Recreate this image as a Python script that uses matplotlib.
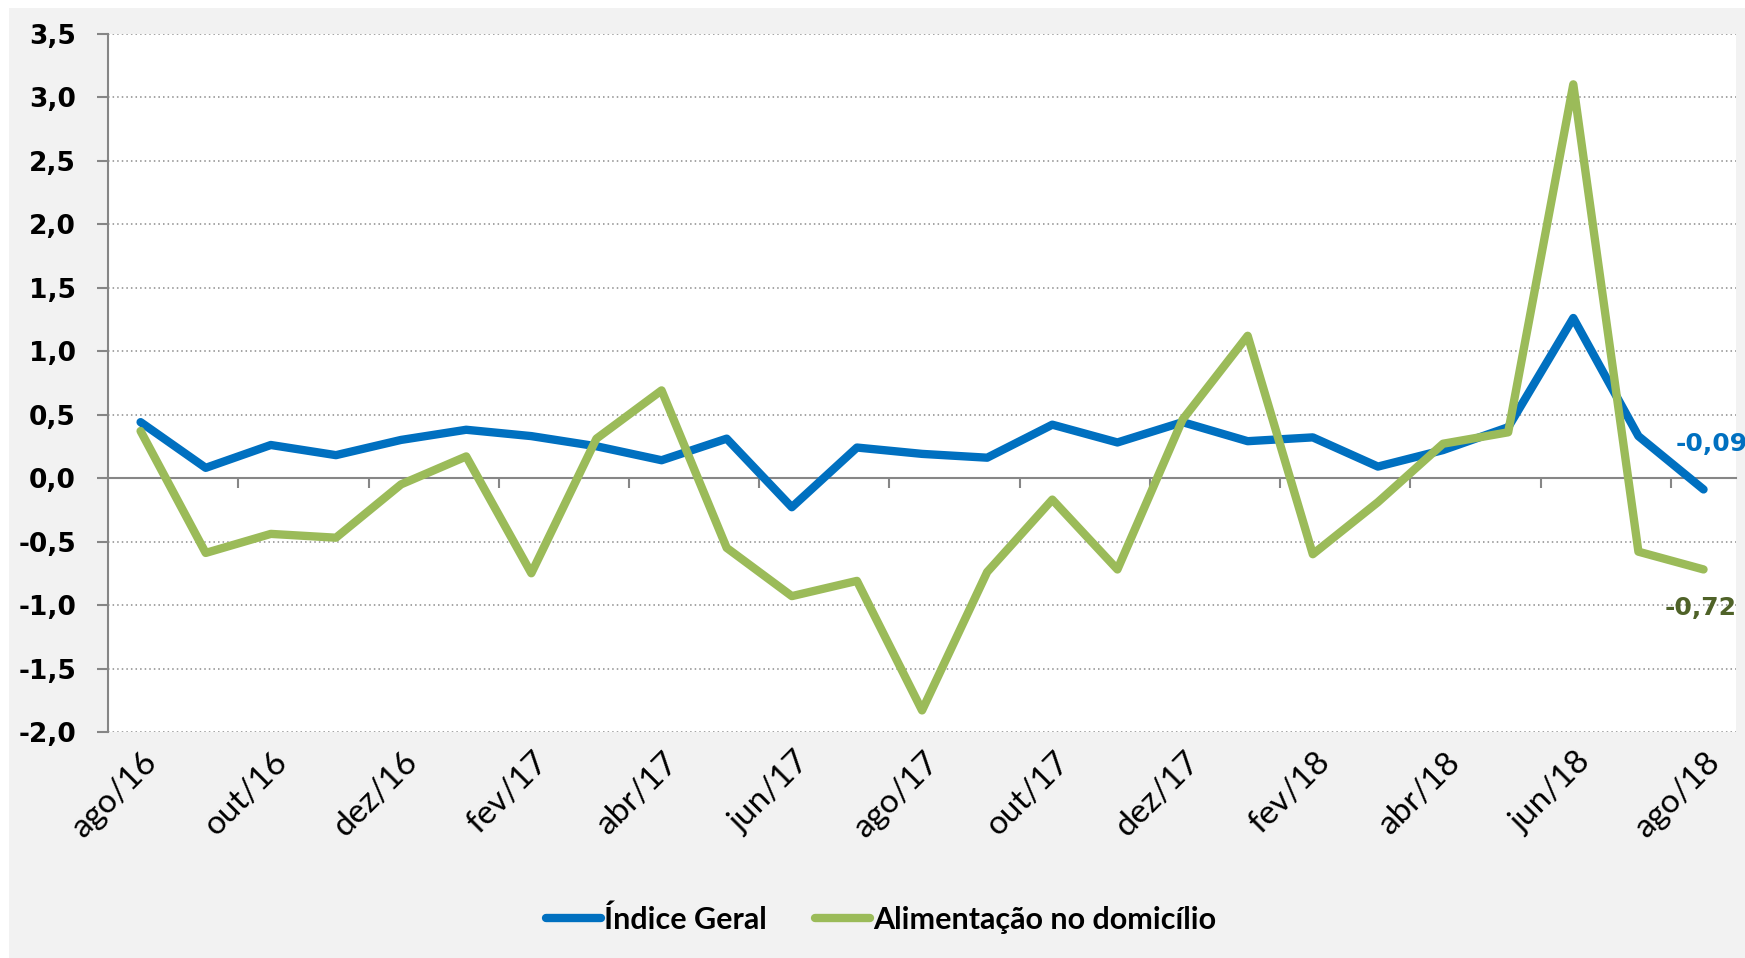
import numpy as np
import matplotlib.pyplot as plt
import matplotlib.transforms as mtransforms

# IPCA - variacao mensal (%)
meses = ['ago/16', 'set/16', 'out/16', 'nov/16', 'dez/16', 'jan/17', 'fev/17',
         'mar/17', 'abr/17', 'mai/17', 'jun/17', 'jul/17', 'ago/17', 'set/17',
         'out/17', 'nov/17', 'dez/17', 'jan/18', 'fev/18', 'mar/18', 'abr/18',
         'mai/18', 'jun/18', 'jul/18', 'ago/18']
indice_geral = [0.44, 0.08, 0.26, 0.18, 0.30, 0.38, 0.33, 0.25, 0.14, 0.31, -0.23,
                0.24, 0.19, 0.16, 0.42, 0.28, 0.44, 0.29, 0.32, 0.09, 0.22, 0.40,
                1.26, 0.33, -0.09]
alimentacao = [0.37, -0.59, -0.44, -0.47, -0.05, 0.17, -0.75, 0.31, 0.69, -0.55,
               -0.93, -0.81, -1.83, -0.74, -0.17, -0.72, 0.46, 1.12, -0.60, -0.19,
               0.27, 0.36, 3.10, -0.58, -0.72]
y_ticks = [-2.0, -1.5, -1.0, -0.5, 0.0, 0.5, 1.0, 1.5, 2.0, 2.5, 3.0, 3.5]

azul = '#0070C0'
verde = '#9BBB59'
verde_escuro = '#4F6228'
cinza = '#868686'

fig = plt.figure(figsize=(17.45, 9.58), dpi=100, facecolor='white')
fig.patches.append(plt.Rectangle((9 / 1745, 0), 1, 1 - 8 / 958, transform=fig.transFigure,
                                 facecolor='#F2F2F2', edgecolor='none', zorder=-10))
ax = fig.add_axes([0.0619, 0.2359, 0.9330, 0.7291])
ax.set_facecolor('white')

x = np.arange(len(meses))
ax.plot(x, indice_geral, color=azul, lw=6, solid_capstyle='round', solid_joinstyle='round',
        label='Índice Geral', zorder=3)
ax.plot(x, alimentacao, color=verde, lw=6, solid_capstyle='round', solid_joinstyle='round',
        label='Alimentação no domicílio', zorder=3)

ax.set_xlim(-0.5, len(meses) - 0.5)
ax.set_ylim(y_ticks[0], y_ticks[-1])

# grade pontilhada
for v in y_ticks:
    if v != 0:
        ax.axhline(v, color='#8C8C8C', lw=1.1, ls=(0, (1, 2)), zorder=1)

for s in ['top', 'right', 'bottom']:
    ax.spines[s].set_visible(False)
ax.spines['left'].set_color(cinza)
ax.spines['left'].set_linewidth(1.5)

ax.set_yticks(y_ticks)
ax.set_yticklabels([f'{v:.1f}'.replace('.', ',') for v in y_ticks])
ax.tick_params(axis='y', direction='out', length=8, width=1.5, color=cinza, pad=15,
               labelsize=19)
for t in ax.get_yticklabels():
    t.set_fontweight('bold')
    t.set_family('DejaVu Sans')

# rotulos do eixo x (a cada 2 meses)
ax.set_xticks(x[::2])
ax.set_xticklabels(meses[::2], rotation=45, ha='right', va='center',
                   rotation_mode='anchor', family='Lato', fontsize=24)
ax.tick_params(axis='x', length=0, pad=18)
off = mtransforms.ScaledTranslation(9 / 72, 0, fig.dpi_scale_trans)
for t in ax.get_xticklabels():
    t.set_transform(t.get_transform() + off)

# eixo zero com marcas entre as categorias
y0 = (0 - y_ticks[0]) / (y_ticks[-1] - y_ticks[0])
sec = ax.secondary_xaxis(y0)
sec.set_xticks(x[1:-1:2] + 0.5)
sec.set_xticklabels([])
sec.tick_params(direction='out', length=7, width=1.5, color=cinza)
sec.spines['bottom'].set_color(cinza)
sec.spines['bottom'].set_linewidth(1.5)

# rotulos dos ultimos valores
ax.annotate(f'{indice_geral[-1]:.2f}'.replace('.', ','), (x[-1], indice_geral[-1]),
            xytext=(-20, 33), textcoords='offset points', ha='left', va='center',
            color=azul, fontsize=18, fontweight='bold', annotation_clip=False)
ax.annotate(f'{alimentacao[-1]:.2f}'.replace('.', ','), (x[-1], alimentacao[-1]),
            xytext=(-2, -28), textcoords='offset points', ha='center', va='center',
            color=verde_escuro, fontsize=18, fontweight='bold', annotation_clip=False)

leg = fig.legend(loc='center', bbox_to_anchor=(0.505, 0.04), ncol=2, frameon=False,
                 handlelength=1.8, handletextpad=0.1, columnspacing=1.6,
                 prop={'family': 'Lato', 'weight': 'bold', 'size': 22})

fig.savefig('out.png', dpi=100, facecolor=fig.get_facecolor())
